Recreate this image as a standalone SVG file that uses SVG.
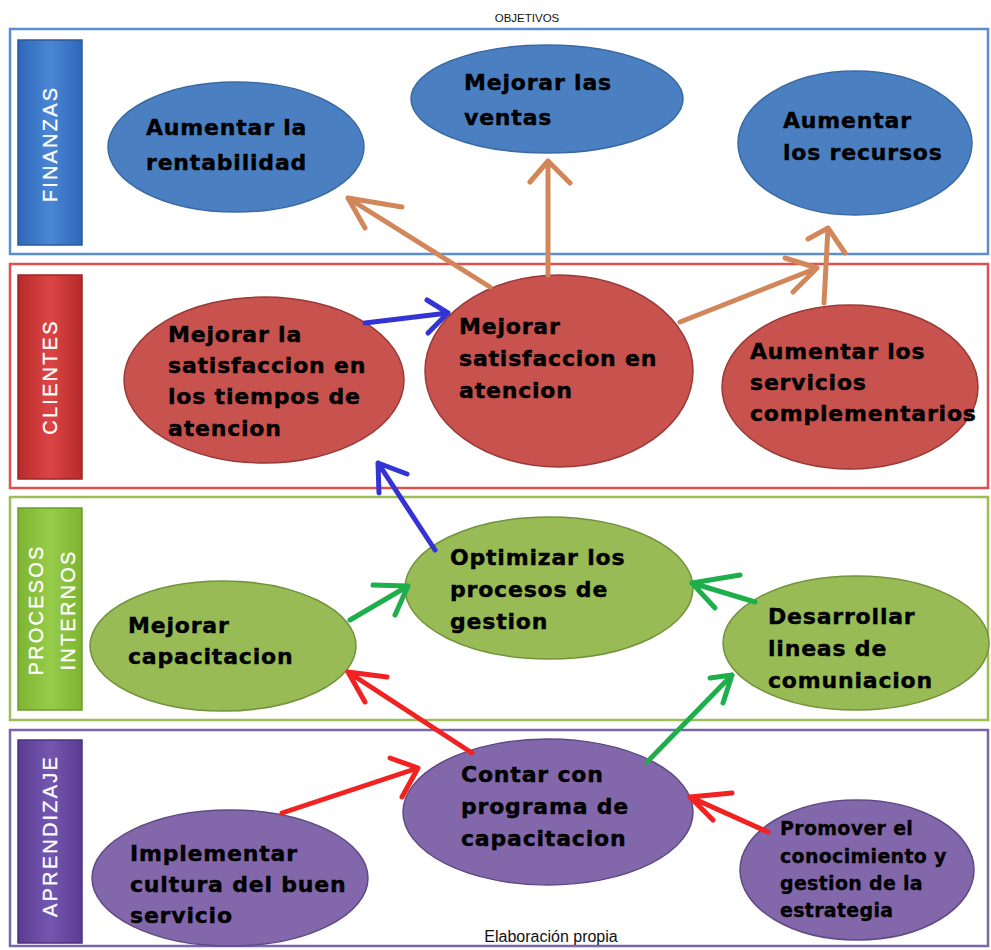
<svg xmlns="http://www.w3.org/2000/svg" width="991" height="950" viewBox="0 0 991 950">
<defs>
<style>
.lane{fill:none;stroke-width:2.5}
.bar{stroke-width:1.5}
.bl{font-family:"Liberation Sans",Arial,sans-serif;font-size:20px;fill:#ffffff;letter-spacing:2.2px;text-anchor:middle;stroke:#ffffff;stroke-width:0.3}
.t{font-family:"DejaVu Sans",Verdana,sans-serif;font-weight:bold;font-size:22px;fill:#000000;letter-spacing:0.8px;stroke:#000000;stroke-width:0.4}
.ts{font-family:"DejaVu Sans",Verdana,sans-serif;font-weight:bold;font-size:19px;fill:#000000;letter-spacing:0.3px;stroke:#000000;stroke-width:0.3}
.fin{fill:#4a7fc1;stroke:#3a6aa3;stroke-width:1.5}
.cli{fill:#c8524e;stroke:#9a3a36;stroke-width:1.5}
.pro{fill:#98bb56;stroke:#74923c;stroke-width:1.5}
.apr{fill:#8367ab;stroke:#5f4a85;stroke-width:1.5}
.a{fill:none;stroke-width:5;stroke-linecap:round;stroke-linejoin:round}
.br{stroke:#d2875a}
.bu{stroke:#3434d4}
.gr{stroke:#1fae4c}
.rd{stroke:#f02222}
.small{font-family:"Liberation Sans",Arial,sans-serif;fill:#111111;text-anchor:middle}
</style>
<linearGradient id="gB" x1="0" y1="0" x2="1" y2="0"><stop offset="0" stop-color="#2f68b8"/><stop offset="0.5" stop-color="#4a86d4"/><stop offset="1" stop-color="#2f68b8"/></linearGradient>
<linearGradient id="gR" x1="0" y1="0" x2="1" y2="0"><stop offset="0" stop-color="#b82a2a"/><stop offset="0.5" stop-color="#dc4545"/><stop offset="1" stop-color="#b82a2a"/></linearGradient>
<linearGradient id="gG" x1="0" y1="0" x2="1" y2="0"><stop offset="0" stop-color="#7db432"/><stop offset="0.5" stop-color="#97cc4a"/><stop offset="1" stop-color="#7db432"/></linearGradient>
<linearGradient id="gP" x1="0" y1="0" x2="1" y2="0"><stop offset="0" stop-color="#5a3d92"/><stop offset="0.5" stop-color="#7556b0"/><stop offset="1" stop-color="#5a3d92"/></linearGradient>
</defs>
<rect width="991" height="950" fill="#ffffff"/>
<text class="small" x="527" y="22" font-size="11.5">OBJETIVOS</text>

<g id="lane-finanzas">
<rect class="lane" x="10" y="29" width="978" height="225" stroke="#5a8ed0"/>
<rect class="bar" x="18" y="40" width="64" height="205" fill="url(#gB)" stroke="#2a5a9e"/>
<text class="bl" transform="translate(57,144) rotate(-90)">FINANZAS</text>
</g>
<g id="lane-clientes">
<rect class="lane" x="10" y="264" width="978" height="224" stroke="#dc5050"/>
<rect class="bar" x="18" y="275" width="64" height="204" fill="url(#gR)" stroke="#9e2424"/>
<text class="bl" transform="translate(57,377) rotate(-90)">CLIENTES</text>
</g>
<g id="lane-procesos">
<rect class="lane" x="10" y="497" width="978" height="223" stroke="#9bbe55"/>
<rect class="bar" x="18" y="508" width="64" height="202" fill="url(#gG)" stroke="#6c9c2c"/>
<text class="bl" transform="translate(43,610) rotate(-90)">PROCESOS</text>
<text class="bl" transform="translate(75,610) rotate(-90)">INTERNOS</text>
</g>
<g id="lane-aprendizaje">
<rect class="lane" x="10" y="730" width="978" height="216" stroke="#7a66aa"/>
<rect class="bar" x="18" y="740" width="64" height="203" fill="url(#gP)" stroke="#4a3280"/>
<text class="bl" transform="translate(57,836) rotate(-90)">APRENDIZAJE</text>
</g>

<g id="n-rentabilidad">
<ellipse class="fin" cx="236" cy="147" rx="128" ry="65"/>
<text class="t" x="146" y="135">Aumentar la</text>
<text class="t" x="146" y="170">rentabilidad</text>
</g>
<g id="n-ventas">
<ellipse class="fin" cx="547" cy="99" rx="136" ry="54"/>
<text class="t" x="464" y="90">Mejorar las</text>
<text class="t" x="464" y="125">ventas</text>
</g>
<g id="n-recursos">
<ellipse class="fin" cx="855" cy="143" rx="117" ry="72"/>
<text class="t" x="783" y="128">Aumentar</text>
<text class="t" x="783" y="160">los recursos</text>
</g>

<g id="n-tiempos">
<ellipse class="cli" cx="264" cy="380" rx="140" ry="83"/>
<text class="t" x="168" y="342">Mejorar la</text>
<text class="t" x="168" y="373">satisfaccion en</text>
<text class="t" x="168" y="404">los tiempos de</text>
<text class="t" x="168" y="436">atencion</text>
</g>
<g id="n-atencion">
<ellipse class="cli" cx="559" cy="371" rx="134" ry="96"/>
<text class="t" x="459" y="334">Mejorar</text>
<text class="t" x="459" y="366">satisfaccion en</text>
<text class="t" x="459" y="398">atencion</text>
</g>
<g id="n-servicios">
<ellipse class="cli" cx="850" cy="387" rx="128" ry="82"/>
<text class="t" x="750" y="359">Aumentar los</text>
<text class="t" x="750" y="390">servicios</text>
<text class="t" x="750" y="421">complementarios</text>
</g>

<g id="n-capacitacion">
<ellipse class="pro" cx="223" cy="646" rx="133" ry="65"/>
<text class="t" x="128" y="633">Mejorar</text>
<text class="t" x="128" y="664">capacitacion</text>
</g>
<g id="n-optimizar">
<ellipse class="pro" cx="549" cy="588" rx="144" ry="71"/>
<text class="t" x="450" y="565">Optimizar los</text>
<text class="t" x="450" y="597">procesos de</text>
<text class="t" x="450" y="629">gestion</text>
</g>
<g id="n-desarrollar">
<ellipse class="pro" cx="856" cy="643" rx="133" ry="67"/>
<text class="t" x="768" y="624">Desarrollar</text>
<text class="t" x="768" y="656">lineas de</text>
<text class="t" x="768" y="688">comuniacion</text>
</g>

<g id="n-implementar">
<ellipse class="apr" cx="230" cy="878" rx="138" ry="68"/>
<text class="t" x="130" y="861">Implementar</text>
<text class="t" x="130" y="892">cultura del buen</text>
<text class="t" x="130" y="923">servicio</text>
</g>
<g id="n-contar">
<ellipse class="apr" cx="548" cy="812" rx="145" ry="73"/>
<text class="t" x="461" y="782">Contar con</text>
<text class="t" x="461" y="814">programa de</text>
<text class="t" x="461" y="846">capacitacion</text>
</g>
<g id="n-promover">
<ellipse class="apr" cx="857" cy="870" rx="117" ry="70"/>
<text class="ts" x="780" y="835">Promover el</text>
<text class="ts" x="780" y="863">conocimiento y</text>
<text class="ts" x="780" y="890">gestion de la</text>
<text class="ts" x="780" y="917">estrategia</text>
</g>

<g id="connectors">
<path class="a br" d="M490 287 L348 198 M402 207 L348 198 L365 228"/>
<path class="a br" d="M548 275 L548 161 M530 182 L548 161 L570 183"/>
<path class="a br" d="M680 322 L817 268 M785 258 L817 268 L793 292"/>
<path class="a br" d="M824 303 L828 228 M808 239 L828 228 L845 253"/>
<path class="a bu" d="M365 323 L448 313 M427 300 L448 313 L428 333"/>
<path class="a bu" d="M435 550 L378 463 M407 474 L378 463 L379 493"/>
<path class="a gr" d="M350 620 L408 586 M373 585 L408 586 L395 615"/>
<path class="a gr" d="M755 602 L692 583 M740 575 L692 583 L715 608"/>
<path class="a gr" d="M647 762 L732 675 M710 678 L732 675 L723 703"/>
<path class="a rd" d="M472 753 L348 672 M387 677 L348 672 L365 702"/>
<path class="a rd" d="M282 813 L418 768 M390 758 L418 768 L402 797"/>
<path class="a rd" d="M768 832 L690 797 M732 793 L690 797 L713 820"/>
</g>

<text class="small" x="551" y="942" font-size="16">Elaboración propia</text>
</svg>
